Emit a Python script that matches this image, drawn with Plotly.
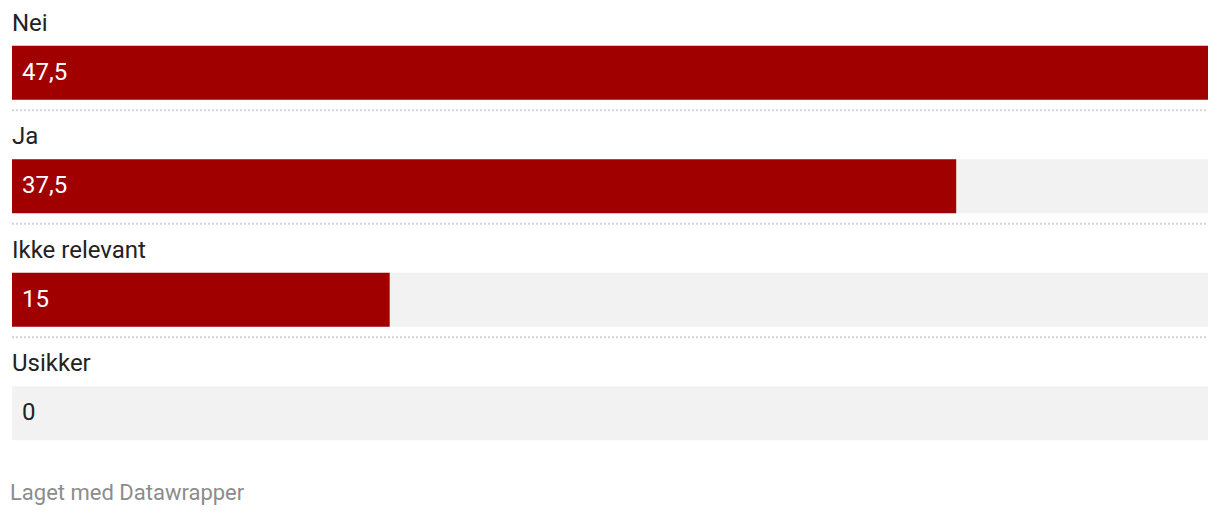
import plotly.graph_objects as go

categories = ["Nei", "Ja", "Ikke relevant", "Usikker"]
values = [47.5, 37.5, 15, 0]
value_labels = ["47,5", "37,5", "15", "0"]
scale_max = 47.5

RED = "#a00000"
TRACK = "#f2f2f2"
FONT = "Roboto"

fig = go.Figure()
fig.add_trace(go.Bar(
    y=categories, x=[scale_max] * len(categories), orientation="h",
    marker=dict(color=TRACK, line=dict(width=0)), width=0.476,
    hoverinfo="skip", showlegend=False,
))
fig.add_trace(go.Bar(
    y=categories, x=values, orientation="h",
    marker=dict(color=RED, line=dict(width=0)), width=0.476,
    hoverinfo="skip", showlegend=False,
))

annotations = []
for i, (cat, v, lab) in enumerate(zip(categories, values, value_labels)):
    annotations.append(dict(
        x=0, xref="paper", xshift=-2, y=cat, yref="y", xanchor="left", yanchor="middle",
        yshift=50, text=cat, showarrow=False,
        font=dict(family=FONT, size=24, color="#222222"),
    ))
    annotations.append(dict(
        x=0, xref="x", y=cat, yref="y", xanchor="left", yanchor="middle",
        xshift=8, yshift=1, text=lab, showarrow=False,
        font=dict(family=FONT, size=24, color="#ffffff" if v > 0 else "#222222"),
    ))
annotations.append(dict(
    x=0, xref="paper", xshift=-4, y=0, yref="paper", yshift=-22,
    xanchor="left", yanchor="middle", text="Laget med Datawrapper",
    showarrow=False, font=dict(family=FONT, size=22, color="#8c8c8c"),
))

shapes = []
for i in range(len(categories) - 1):
    shapes.append(dict(
        type="line", xref="paper", x0=0, x1=1, yref="y",
        y0=i + 0.33, y1=i + 0.33,
        line=dict(color="#d4d4d4", width=2, dash="2px,2px"),
    ))

fig.update_layout(
    width=1204, height=500,
    margin=dict(l=4, r=4, t=8, b=38),
    barmode="overlay",
    plot_bgcolor="white", paper_bgcolor="white",
    xaxis=dict(range=[0, scale_max], visible=False, fixedrange=True),
    yaxis=dict(categoryorder="array", categoryarray=categories,
               range=[3.5, -0.5], visible=False, fixedrange=True),
    annotations=annotations, shapes=shapes,
    font=dict(family=FONT),
)

fig.write_html("out.html")
